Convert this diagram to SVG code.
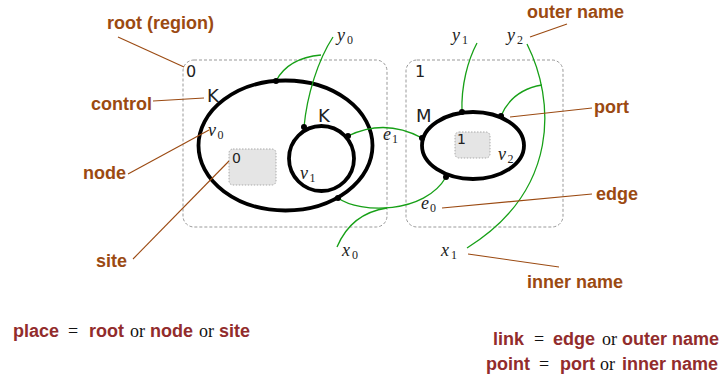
<svg xmlns="http://www.w3.org/2000/svg" width="722" height="381" viewBox="0 0 722 381">
<style>
.root{fill:none;stroke:#999;stroke-width:1;stroke-dasharray:3 2}
.site{fill:#e5e5e5;stroke:#aaa;stroke-width:1;stroke-dasharray:1.5 1.5}
.node{fill:none;stroke:#000;stroke-width:3.8}
.port{fill:#000}
.link{fill:none;stroke:#17a017;stroke-width:1.3}
.ann{fill:none;stroke:#9b4a12;stroke-width:1.1}
.lbl{font-family:"DejaVu Sans","Liberation Sans",sans-serif;fill:#222}
.m{font-family:"Liberation Serif","DejaVu Serif",serif;font-style:italic;font-size:18px;fill:#222}
.s{font-family:"Liberation Serif","DejaVu Serif",serif;font-size:12px;fill:#222}
.a{font-family:"Liberation Sans",Arial,sans-serif;font-weight:bold;font-size:18px;fill:#9b4a12}
.b{font-family:"Liberation Sans",Arial,sans-serif;font-weight:bold;font-size:18px;fill:#922c2c}
.o{font-family:"Liberation Serif","Times New Roman",serif;font-size:18px;fill:#111}
</style>

<g id="root0">
<rect class="root" x="183" y="60" width="204" height="167" rx="11"/>
<text class="lbl" x="186" y="77" font-size="16">0</text>
</g>
<g id="root1">
<rect class="root" x="406" y="60" width="157" height="167" rx="11"/>
<text class="lbl" x="415" y="77" font-size="16">1</text>
</g>

<g id="v0">
<ellipse class="node" cx="285.5" cy="145.5" rx="87" ry="65"/>
<text class="lbl" x="207" y="102" font-size="18">K</text>
<text class="m" x="208" y="136">v</text><text class="s" x="217.5" y="139">0</text>
</g>
<g id="site0">
<rect class="site" x="229" y="149" width="47" height="36" rx="4"/>
<text class="lbl" x="232" y="163" font-size="14">0</text>
</g>
<g id="v1">
<circle class="node" cx="321.5" cy="158.5" r="32.5"/>
<text class="lbl" x="318" y="122" font-size="18">K</text>
<text class="m" x="300" y="179">v</text><text class="s" x="309.5" y="182">1</text>
</g>
<g id="v2">
<ellipse class="node" cx="473" cy="145.5" rx="51" ry="33.5"/>
<text class="lbl" x="416" y="122" font-size="18">M</text>
<text class="m" x="498" y="160">v</text><text class="s" x="507.5" y="163">2</text>
</g>
<g id="site1">
<rect class="site" x="455" y="132" width="35" height="26" rx="4"/>
<text class="lbl" x="457" y="144" font-size="14">1</text>
</g>

<g id="links">
<path class="link" d="M333 37 C318 60 307 95 304 127"/>
<path class="link" d="M276 81 Q288 58 321 55"/>
<path class="link" d="M348 136 Q385 118 422 138"/>
<path class="link" d="M338 198 C360 214 425 214 446 177"/>
<path class="link" d="M337 247 C345 228 360 212 387 208"/>
<path class="link" d="M477 43 C468 60 461 85 462 112"/>
<path class="link" d="M527 44 C555 100 560 190 467 248"/>
<path class="link" d="M501 116 Q512 90 542 85"/>
</g>

<g id="ports">
<circle class="port" cx="276" cy="81" r="3"/>
<circle class="port" cx="304" cy="127" r="3"/>
<circle class="port" cx="348" cy="136" r="3"/>
<circle class="port" cx="338" cy="198" r="3"/>
<circle class="port" cx="422" cy="138" r="3"/>
<circle class="port" cx="446" cy="177" r="3"/>
<circle class="port" cx="462" cy="112" r="3"/>
<circle class="port" cx="501" cy="116" r="3"/>
</g>

<g id="names">
<text class="m" x="337" y="41">y</text><text class="s" x="347" y="44">0</text>
<text class="m" x="452" y="41">y</text><text class="s" x="462" y="44">1</text>
<text class="m" x="507" y="41">y</text><text class="s" x="517" y="44">2</text>
<text class="m" x="383" y="140">e</text><text class="s" x="392" y="143">1</text>
<text class="m" x="421" y="209">e</text><text class="s" x="430" y="212">0</text>
<text class="m" x="342" y="256">x</text><text class="s" x="352" y="259">0</text>
<text class="m" x="441" y="256">x</text><text class="s" x="451" y="259">1</text>
</g>

<g id="annotations">
<line class="ann" x1="118" y1="37" x2="184" y2="67"/>
<line class="ann" x1="153" y1="101" x2="204" y2="98"/>
<line class="ann" x1="128" y1="174" x2="209" y2="130"/>
<line class="ann" x1="133" y1="259" x2="229" y2="161"/>
<line class="ann" x1="530" y1="37" x2="567" y2="24"/>
<line class="ann" x1="510" y1="117" x2="592" y2="108"/>
<line class="ann" x1="442" y1="208" x2="592" y2="194"/>
<line class="ann" x1="468" y1="254" x2="559" y2="267"/>
<text class="a" x="107" y="29">root (region)</text>
<text class="a" x="91" y="110">control</text>
<text class="a" x="83" y="179">node</text>
<text class="a" x="96" y="267">site</text>
<text class="a" x="527" y="18">outer name</text>
<text class="a" x="594" y="113">port</text>
<text class="a" x="596" y="200">edge</text>
<text class="a" x="527" y="288">inner name</text>
</g>

<g id="legend">
<text class="b" x="13" y="337">place</text><text class="o" x="68" y="337">=</text><text class="b" x="89" y="337">root</text><text class="o" x="130" y="337">or</text><text class="b" x="150" y="337">node</text><text class="o" x="199" y="337">or</text><text class="b" x="219" y="337">site</text>
<text class="b" x="493" y="345">link</text><text class="o" x="534" y="345">=</text><text class="b" x="553" y="345">edge</text><text class="o" x="602" y="345">or</text><text class="b" x="622" y="345">outer name</text>
<text class="b" x="486" y="370">point</text><text class="o" x="539" y="370">=</text><text class="b" x="560" y="370">port</text><text class="o" x="600" y="370">or</text><text class="b" x="622" y="370">inner name</text>
</g>
</svg>
